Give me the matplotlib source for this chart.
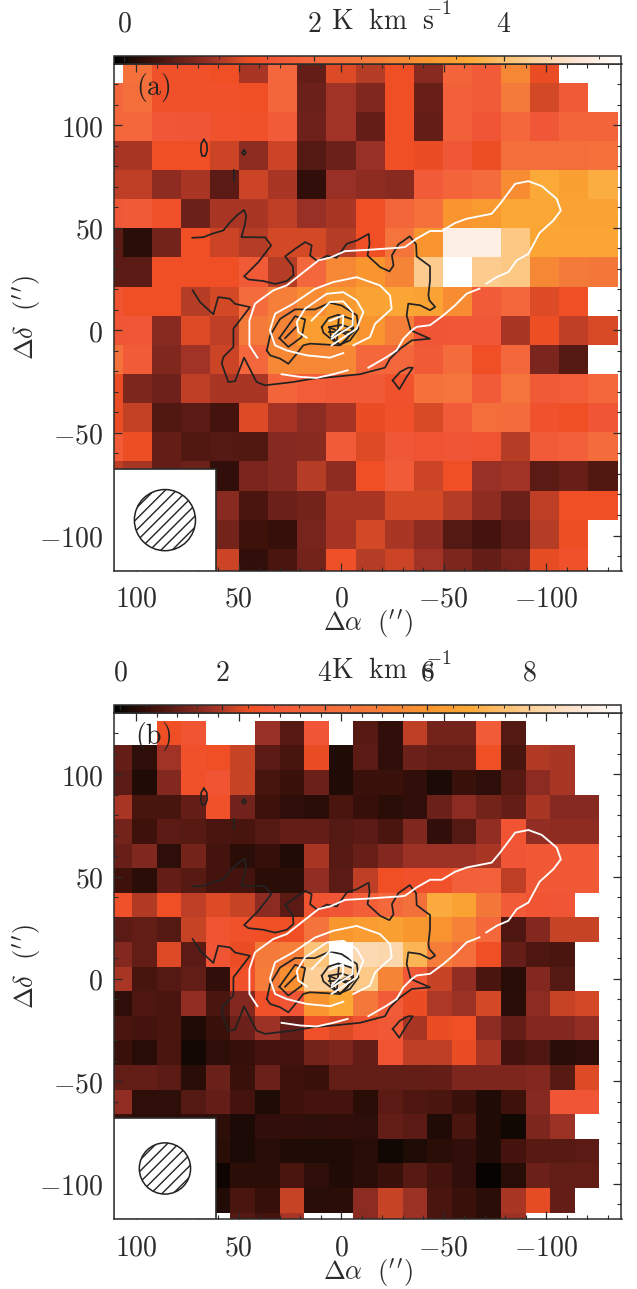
import numpy as np
import matplotlib
matplotlib.use('Agg')
import matplotlib.pyplot as plt
from matplotlib.colors import LinearSegmentedColormap, Normalize
from matplotlib.patches import Rectangle, Circle

plt.rcParams['mathtext.fontset'] = 'cm'
plt.rcParams['hatch.linewidth'] = 1.0
plt.rcParams['hatch.color'] = '#222222'
n = np.nan
W, H = 637, 1289
INK = '#2b2b2b'

# ------ panel (a) integrated intensity, K km/s; rows from north to south, columns east to west
offsets_a_ra = 14.2 * np.arange(8, -10, -1)
offsets_a_dec = 14.2 * np.arange(9, -9, -1)
map_a = [
 [n,2.3,1.4,1.4,1.35,1.0,2.0,.55,1.25,1.05,1.35,.8,1.9,1.7,2.9,1.3,n,n],
 [2.0,2.2,1.4,1.4,1.4,1.35,1.95,.6,.95,.75,1.35,.58,1.8,1.7,2.6,1.2,1.65,n],
 [2.0,2.0,1.6,1.55,1.45,1.4,1.7,.62,.95,.55,1.35,.55,1.8,1.55,2.0,1.6,1.9,1.9],
 [1.0,1.0,1.35,1.35,1.15,.85,1.15,.45,.6,.9,1.35,1.3,1.6,1.33,2.2,2.2,2.2,2.3],
 [1.1,1.1,.85,1.0,.5,1.15,1.0,.22,.9,.85,.8,1.7,1.9,2.1,3.0,3.65,3.45,3.7],
 [1.6,1.65,1.4,.6,1.0,1.0,1.1,.9,1.0,1.35,1.95,2.3,3.2,3.3,3.6,3.6,3.5,3.5],
 [.5,.18,.65,1.35,1.15,1.05,1.2,1.2,1.05,1.35,2.4,3.2,4.95,4.95,4.15,3.55,3.55,3.55],
 [.5,.5,1.35,1.35,1.35,1.65,1.05,2.0,2.9,3.2,2.8,4.2,5.3,4.2,4.15,2.9,2.6,2.5],
 [1.5,1.35,1.35,1.05,1.2,2.1,2.7,3.0,3.3,3.5,3.55,3.5,3.0,1.7,2.0,1.25,1.35,n],
 [1.55,1.6,.8,1.25,1.1,2.6,2.8,3.4,3.5,3.2,2.7,1.55,1.6,1.6,1.0,1.32,1.1,1.22],
 [2.3,1.7,.75,.95,1.15,2.0,2.9,2.9,2.9,2.0,2.0,1.65,2.1,1.35,2.0,.7,.45,n],
 [1.3,.72,.62,1.1,1.0,1.0,1.9,1.75,1.65,1.65,1.45,2.3,2.4,1.7,2.4,1.65,1.75,2.0],
 [1.3,1.12,.42,.48,.35,1.25,.98,.82,.98,1.3,1.4,1.22,1.7,2.2,2.1,1.45,1.35,1.55],
 [1.7,1.33,.55,.42,.45,.42,.78,.8,1.7,1.25,1.6,1.5,1.55,1.5,1.05,1.7,1.8,2.1],
 [1.1,1.0,.55,.6,.22,.7,.78,1.05,.85,1.35,1.7,1.15,1.35,.9,.95,.5,.58,.42],
 [n,n,n,n,.8,.38,.6,.65,1.0,1.0,1.2,1.2,1.05,.85,.6,1.1,1.35,1.35],
 [n,n,n,n,.65,.3,.26,.68,.98,1.2,1.0,.85,.45,.35,.5,1.05,1.33,n],
 [n,n,n,n,1.15,.22,.38,.65,1.38,1.05,1.15,.95,.72,.55,.68,1.28,1.4,n],
]
# ------ panel (b)
offsets_b_ra = 12.0 * np.arange(9, -11, -1)
offsets_b_dec = 12.0 * np.arange(10, -11, -1)
map_b = [
 [n,n,2.6,2.9,n,n,1.75,.95,3.0,n,.95,.5,2.1,1.3,1.3,3.2,.9,n,n,n],
 [1.1,.45,1.85,2.7,2.6,2.2,1.0,.75,2.5,.3,1.0,.5,1.2,1.05,1.05,2.6,.75,2.0,1.9,n],
 [1.0,.28,1.5,2.7,2.9,2.2,.75,.6,1.2,.28,.6,.62,.5,.2,.6,.45,.95,1.6,1.9,n],
 [1.9,.75,.75,1.1,2.7,1.25,.65,.45,.42,.8,.55,.42,.5,1.2,1.6,1.3,1.1,1.9,1.55,1.55],
 [1.3,.65,1.0,.95,.8,.75,.9,1.1,1.1,.9,1.0,.8,1.45,.5,.9,1.7,2.9,1.7,1.65,1.65],
 [1.15,1.45,.45,1.3,.7,.42,.55,.28,1.9,.95,1.15,1.5,1.8,1.8,1.8,1.9,3.0,3.1,3.1,3.1],
 [.65,.42,1.1,.95,.7,.7,.42,.42,1.7,1.0,2.1,2.6,2.7,2.7,3.4,3.5,2.1,3.1,3.1,3.1],
 [2.7,2.0,2.6,2.1,2.4,2.2,1.6,1.0,2.8,3.0,3.4,3.9,4.3,6.9,6.6,4.7,3.2,2.9,3.0,n],
 [1.0,1.05,.9,2.2,2.8,2.7,2.6,2.6,4.4,6.1,6.3,6.5,6.1,5.9,5.2,3.8,.85,1.5,2.2,2.2],
 [1.5,1.05,2.4,1.0,2.9,2.5,4.9,5.1,7.6,9.8,8.4,8.3,7.2,5.0,4.2,2.6,1.1,.85,.8,n],
 [1.9,.75,.9,1.05,.5,2.7,5.0,5.8,8.0,8.0,7.8,5.3,3.1,2.2,1.7,.8,.38,1.5,.9,n],
 [.45,.85,.8,1.7,.8,1.5,2.7,3.0,6.0,6.8,4.8,3.2,2.5,1.95,1.8,2.3,.4,1.6,2.2,2.3],
 [.8,.7,.8,.25,.6,1.2,1.8,1.1,2.7,2.4,2.8,3.1,1.9,2.5,2.6,1.6,1.1,1.5,1.5,1.7],
 [.6,.35,.8,.15,.45,.55,.7,.7,1.3,1.4,1.1,2.85,2.1,2.1,2.5,1.9,.7,.85,.4,.45],
 [1.05,1.05,1.0,.4,1.2,.6,1.2,.65,.6,1.05,1.05,1.05,1.05,1.1,1.4,1.4,1.4,1.5,.95,2.4],
 [1.7,.45,.45,.9,1.1,.7,.25,.65,.7,.7,.42,1.0,.85,.8,.6,.3,.65,1.55,3.0,3.0],
 [.6,.4,.4,.5,.45,.2,.5,.5,.45,.5,.45,1.05,1.0,.3,.8,.3,.1,1.4,1.8,n],
 [n,n,n,n,.4,.2,.35,.3,.25,.25,.35,.1,.25,.4,.5,.3,.7,.95,.95,1.0],
 [n,n,n,n,.05,.4,.4,.8,.45,.28,.42,.6,.95,.7,.5,0.,.35,1.2,1.05,1.05],
 [n,n,n,n,.3,.8,.55,2.2,.35,.4,1.6,2.2,1.8,.8,.6,.4,1.9,2.45,1.1,n],
 [n,n,n,n,n,.9,.7,1.9,n,n,1.6,2.2,1.8,.8,.6,.4,1.8,n,n,n],
]

cbar_a_ticks = [0, 2, 4]
cbar_b_ticks = [0, 2, 4, 6, 8]
axis_x_ticks = [100, 50, 0, -50, -100]
axis_y_ticks = [100, 50, 0, -50, -100]

# ------ contour traces, offsets in arcsec (ra, dec)
black_contours = [
 [(72.4,19.5),(68.8,13.8),(62.3,7.8),(59.9,16.2),(54.2,15.4),(51.7,12.9),(44.4,11.3),(52.5,.8),(52.5,-8.1),(57.4,-13),(58.2,-16.2),(55,-25.2),(51.7,-24.8),(47.3,-13.3),(41.2,-25.2),(37.1,-26.8),(23.3,-25.2),(13.5,-23.5),(3.8,-22.7),(-9.2,-21.4),(-21.4,-18.2),(-23.9,-13.8),(-28.8,-9),(-34.5,-4.9),(-43.4,-4.1),(-34,0),(-32,7.3),(-32.8,13),(-38.6,12.2),(-43.4,9.8),(-45.9,11.4),(-43.1,14.6),(-42.6,17.1),(-43.4,24.4),(-43.4,31.2),(-36.9,36),(-36.6,41.9),(-33.5,45.8),(-28,41.9),(-24.8,36.5),(-25.6,31.6),(-23.6,28.7),(-19.1,30.8),(-12.9,36.5),(-13.9,42.2),(-13.5,47),(-7.7,43.8),(-2.8,42.2),(2.1,35.4),(7,36.3),(11.5,33.7),(15.1,36.5),(14.3,41.4),(17.5,43),(22.4,39.7),(27.3,36),(23.5,31.2),(23.2,26.8),(26.5,24),(32.2,22.6),(37.8,24),(45.2,24.8),(47.3,26.3),(40.3,33.3),(34.1,41.4),(37,45.3),(48.6,45.4),(46.8,51.9),(46.3,56),(47.3,58.7),(50.5,56.3),(54.1,52.7),(57.4,48.7),(63.1,47),(67.1,45.4),(72.5,45.1)],
 [(36.2,-9.8),(34.6,-2.5),(29.7,5.6),(22.4,10.2),(12.7,10.2),(5.4,13.4),(-.3,12.1),(-7.7,7.3),(-8.5,.8),(-4.4,-4.9),(1.3,-7.3),(6.2,-7),(15.1,-6.5),(18.4,-7.3),(21.6,-11.4),(25.7,-16.3),(29.7,-13.8),(34.6,-12.2),(36.2,-9.8)],
 [(30.1,-3.8),(22.4,6.9),(17.5,5.3),(19.2,-3.3),(25.7,-8.1),(30.1,-3.8)],
 [(27.3,-3.8),(21.9,1.6)],
 [(9.4,1.6),(6.2,6),(1.3,7.6),(-5.7,5.3),(-6,-.8),(.5,-7.3),(5,-4.1),(8.6,-1.2),(9.4,1.6)],
 [(5.7,1.6),(-.3,2.7),(-5.7,.8),(-3.1,-4.1),(.5,-7.3),(5,-2.5),(5.7,1.6)],
 [(1,7),(2,-5)],[(6,1.5),(-4,-2.5)],[(5,-3.5),(-5,2)],[(6,-1),(-5,-1)],
 [(66.9,93),(65.5,91),(65.3,87.5),(66.2,85),(67.8,85),(68.4,87.5),(68.2,91),(66.9,93)],
 [(47.4,87.8),(46.4,86.6),(47.4,85.4),(48.4,86.6),(47.4,87.8)],
 [(52.4,77.9),(52.4,73)],
 [(-25.2,-24.4),(-28.8,-20.3),(-32.8,-18.2),(-35,-18.2),(-32,-22.7),(-28.4,-28.7),(-25.2,-24.4)],
]
white_contours = [
 [(40.8,-13.3),(44.7,-7.3),(44.7,4.8),(42,12.9),(39.8,14.6),(33,19.5),(26.5,21.9),(11,34.1),(5.3,35.4),(-2,38.6),(-14.2,39.3),(-28.8,40.3),(-31.2,40.6),(-36.9,44.7),(-43.4,48.4),(-49.1,48.4),(-55.6,52.3),(-61.3,54.4),(-73.5,56.8),(-77.6,61.7),(-84.9,71.4),(-91.4,72.7),(-97.9,70.3),(-105.2,64.1),(-107.2,58.4),(-103.6,53.6),(-96.8,47.4),(-91.4,37.3),(-85.7,34.1),(-81.6,28.4),(-76,26),(-70.8,22.7)],
 [(-67.5,20.3),(-61.3,17.9),(-55.6,12.2),(-49.9,7.3),(-43.4,2.5),(-36.9,1.7),(-34.5,0),(-30.4,-4.1),(-27.1,-9.8),(-22.3,-13),(-13.3,-18.2)],
 [(29,-21.4),(20,-22.7),(11.9,-23.2),(3.8,-21.4),(-3.2,-19.5)],
 [(-1.1,-11.1),(5.4,-13.3),(16.8,-12.2),(26.5,-9.8),(32.2,-7.3),(34.7,0),(32.2,8.1),(23.3,13),(12.7,20.2),(3.8,23.5),(-7.6,25.9),(-19,21.9),(-23.9,17),(-24.7,10.5),(-16.6,3.2),(-14.1,-3.3),(-6,-7.3)],
 [(16.8,-3.6),(20.8,-.8),(21.6,4),(17.6,10.5),(7,17.8),(-1.1,18.6),(-7.6,14.6),(-10.9,8.9),(-7.6,.8),(-2.7,-2.5),(4.6,-7.3)],
 [(14.3,4.8),(5.4,13.8),(-1.1,14.1),(-5.7,8.9),(-5.7,2.4),(4.6,-4.1)],
 [(5.7,4.5),(-1.1,7.3),(-.8,2),(4.5,-3)],
]

stops = [(0,'#000000'),(.03,'#1a0a05'),(.07,'#3a100a'),(.13,'#6b2019'),(.19,'#9a3025'),(.248,'#d84a25'),
         (.268,'#f04e23'),(.307,'#f05535'),(.396,'#f4683c'),(.504,'#f47a3a'),(.622,'#f9962f'),(.70,'#fba835'),
         (.77,'#fcc070'),(.84,'#fdd5a5'),(.918,'#fde5d5'),(1,'#ffffff')]
cmap = LinearSegmentedColormap.from_list('heat', stops)
cmap.set_bad('white')


def box(l, r, t, b):
    return [l / W, 1 - b / H, (r - l) / W, (b - t) / H]


def panel(top, bot, ra, dec, data, vmin, vmax, cticks, tag, beam_r):
    ax = fig.add_axes(box(114.3, 621.5, top, bot))
    m = ax.pcolormesh(ra, dec, np.ma.masked_invalid(np.array(data, float)), cmap=cmap,
                      norm=Normalize(vmin, vmax), shading='nearest', zorder=1)
    ax.set_xlim(110.6, -136.8)
    ax.set_ylim(-117.3, 129.8)
    for c in black_contours:
        c = np.array(c)
        ax.plot(c[:, 0], c[:, 1], color='#222222', lw=1.25, zorder=3, solid_joinstyle='round')
    for c in white_contours:
        c = np.array(c)
        ax.plot(c[:, 0], c[:, 1], color='white', lw=1.35, zorder=4, solid_joinstyle='round')
    ax.add_patch(Rectangle((110.6, -117.3), -49.5, 49.5, fc='white', ec=INK, lw=1.2, zorder=5))
    ax.add_patch(Circle((85.9, -92.5), beam_r, fc='white', ec='#222222', hatch='///', lw=1.1, zorder=6))
    ax.text(91.7, 118.2, r'$\mathrm{' + tag + '}$', fontsize=20, color='#222222', ha='center', va='center', zorder=7)
    ax.set_xticks(axis_x_ticks)
    ax.set_xticklabels([f'${v}$' for v in axis_x_ticks], fontsize=20, color=INK)
    ax.set_yticks(axis_y_ticks)
    ax.set_yticklabels([f'${v}$' for v in axis_y_ticks], fontsize=20, color=INK)
    ax.set_xticks(np.arange(-130, 110, 10), minor=True)
    ax.set_yticks(np.arange(-110, 130, 10), minor=True)
    ax.tick_params(which='major', direction='in', top=True, right=True, length=5.5, width=.9, color=INK)
    ax.tick_params(which='minor', direction='in', top=True, right=True, length=2.8, width=.8, color=INK)
    ax.tick_params(axis='x', which='major', pad=10)
    ax.tick_params(axis='y', which='major', pad=8)
    for s in ax.spines.values():
        s.set_linewidth(1.1)
        s.set_color(INK)
    mid = (top + bot) / 2
    fig.text(367.7 / W, 1 - (bot + 53) / H, r"$\Delta\alpha\ \ (^{\prime\,\prime})$", fontsize=19,
             ha='center', va='center', color=INK)
    fig.text(27 / W, 1 - mid / H, r"$\Delta\delta\ \ (^{\prime\,\prime})$", fontsize=19, rotation=90,
             ha='center', va='center', color=INK)
    # colour bar
    cax = fig.add_axes(box(114.3, 621.5, top - 8, top))
    cb = fig.colorbar(m, cax=cax, orientation='horizontal')
    cb.set_ticks(cticks)
    cb.set_ticklabels([f'${v}$' for v in cticks])
    cax.xaxis.set_ticks_position('top')
    cax.set_xticks(np.arange(0, vmax, .5), minor=True)
    cax.tick_params(which='major', direction='in', length=3.5, width=.9, color=INK, pad=13, labelsize=20,
                    labelcolor=INK, top=True, bottom=False)
    cax.tick_params(which='minor', direction='in', length=1.8, width=.7, color=INK, top=True, bottom=False)
    cb.outline.set_linewidth(1.1)
    cb.outline.set_edgecolor(INK)
    fig.text(331 / W, 1 - (top - 43) / H, r"$\mathrm{K\ \ km\ \ s}$", fontsize=20, ha='left', va='center', color=INK)
    fig.text(426 / W, 1 - (top - 55) / H, r"$-1$", fontsize=14, ha='left', va='center', color=INK)


fig = plt.figure(figsize=(W / 100, H / 100), dpi=100, facecolor='white')
panel(64, 571, offsets_a_ra, offsets_a_dec, map_a, -0.105, 5.24, cbar_a_ticks, '(a)', 14.9)
panel(713, 1219.3, offsets_b_ra, offsets_b_dec, map_b, -0.115, 9.8, cbar_b_ticks, '(b)', 12.5)
fig.savefig('out.png', dpi=100, facecolor='white')
